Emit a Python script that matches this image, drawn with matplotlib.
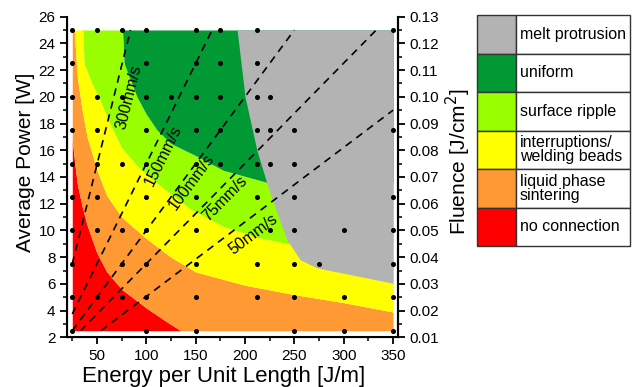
import numpy as np
import matplotlib.pyplot as plt
from matplotlib.patches import Rectangle
from matplotlib.ticker import MultipleLocator, FormatStrFormatter

plt.rcParams['font.family'] = ['Liberation Sans', 'DejaVu Sans']

# region boundaries: power [W] at energy per unit length [J/m]
red_E = [25, 30, 35, 40, 50, 60, 75, 100, 120, 135]
red_P = [16.7, 13.5, 11.8, 10.4, 8.3, 6.9, 5.6, 4.2, 3.2, 2.5]

orange_E = [27, 30, 35, 40, 50, 60, 75, 100, 125, 150, 200, 250, 300, 350]
orange_P = [25, 21.5, 19.0, 17.0, 14.5, 12.6, 11.0, 9.4, 8.0, 6.9, 5.9, 5.2, 4.6, 3.9]

yellow_E = [35.8, 37, 45, 53, 63, 75, 90, 105, 120, 145, 178, 212, 244]
yellow_P = [25, 22.5, 21.0, 19.8, 18.0, 16.2, 14.9, 13.9, 13.0, 11.6, 10.3, 9.5, 9.0]

ripple_E = [76, 77.5, 90.5, 100, 111, 125, 150, 178, 222]
ripple_P = [25, 22.5, 20.0, 18.7, 17.5, 16.5, 15.6, 14.5, 13.6]

# melt protrusion edge, energy at given power
melt_P = [6.05, 7.2, 7.8, 9.3, 11.3, 13.5, 16.0, 20.0, 25.0]
melt_E = [350, 273, 256, 242.5, 232.4, 222.3, 212, 200, 192]

# experiment points per power level
dot_rows = {
    25.0: [25, 50, 75, 100, 150, 175, 212, 350],
    22.5: [25, 100, 150, 175, 212],
    20.0: [25, 50, 75, 100, 125, 150, 175, 212, 225],
    17.5: [25, 50, 100, 150, 175, 212, 225, 250, 350],
    15.0: [25, 50, 75, 100, 150, 175, 212, 225, 250],
    12.5: [25, 50, 100, 150, 212, 250, 350],
    10.0: [25, 50, 75, 100, 150, 225, 250, 300, 350],
    7.5: [25, 75, 100, 150, 212, 250, 275, 350],
    5.0: [25, 50, 75, 100, 150, 212, 250, 300, 350],
    2.5: [25, 100, 150, 250, 300, 350],
}

# scan speed lines (start and end points) and their labels
speed_labels = ['300mm/s', '150mm/s', '100mm/s', '75mm/s', '50mm/s']
speed_E = [(25, 84), (25, 166.7), (25, 250), (33.3, 333), (54, 350)]
speed_P = [(7.5, 25), (3.75, 25), (2.5, 25), (2.5, 25), (2.5, 19)]
label_E = [82, 117, 146, 180, 208]
label_P = [20.0, 15.6, 13.6, 12.4, 9.7]

legend_labels = ['melt protrusion', 'uniform', 'surface ripple',
                 'interruptions/\nwelding beads', 'liquid phase\nsintering', 'no connection']
legend_colors = ['#b3b3b3', '#009933', '#99ff00', '#ffff00', '#ff9933', '#ff0000']

fig = plt.figure(figsize=(6.34, 3.87), dpi=100)
ax = fig.add_axes([0.1062, 0.1282, 0.5216, 0.8289])

E = np.linspace(25, 350, 800)
b1 = np.interp(E, red_E, red_P)
b2 = np.interp(E, orange_E, orange_P)
b3 = np.interp(E, yellow_E, yellow_P)
b4 = np.interp(E, ripple_E, ripple_P)
ax.fill_between(E, 2.5, b1, color=legend_colors[5], lw=0)
ax.fill_between(E, b1, b2, color=legend_colors[4], lw=0)
ax.fill_between(E, b2, b3, color=legend_colors[3], lw=0)
ax.fill_between(E, b3, b4, color=legend_colors[2], lw=0)
ax.fill_between(E, b4, 25, color=legend_colors[1], lw=0)
P = np.linspace(melt_P[0], 25, 400)
ax.fill_betweenx(P, np.interp(P, melt_P, melt_E), 350, color=legend_colors[0], lw=0)

ax.set_xlim(20, 355)
ax.set_ylim(2, 26)

for (e0, e1), (p0, p1) in zip(speed_E, speed_P):
    ax.plot([e0, e1], [p0, p1], color='black', lw=1.2, ls=(0, (4.5, 3.5)))

fig.canvas.draw()
for lab, (e0, e1), (p0, p1), le, lp in zip(speed_labels, speed_E, speed_P, label_E, label_P):
    a = ax.transData.transform([e0, p0])
    b = ax.transData.transform([e1, p1])
    ang = np.degrees(np.arctan2(b[1] - a[1], b[0] - a[0]))
    ax.text(le, lp, lab, rotation=ang, rotation_mode='anchor',
            ha='center', va='center', fontsize=11.5)

for p, es in dot_rows.items():
    ax.plot(es, [p] * len(es), 'o', color='black', ms=2.6, ls='none')

ax.xaxis.set_major_locator(MultipleLocator(50))
ax.xaxis.set_minor_locator(MultipleLocator(25))
ax.yaxis.set_major_locator(MultipleLocator(2))
ax.yaxis.set_minor_locator(MultipleLocator(1))
ax.tick_params(which='major', direction='out', length=5, width=1.3, labelsize=11)
ax.tick_params(which='minor', direction='out', length=3, width=1.1)
ax.spines['top'].set_visible(False)
for s in ['left', 'bottom', 'right']:
    ax.spines[s].set_linewidth(1.5)

ax2 = ax.twinx()
ax2.set_ylim(0.01, 0.13)
ax2.yaxis.set_major_locator(MultipleLocator(0.01))
ax2.yaxis.set_minor_locator(MultipleLocator(0.005))
ax2.yaxis.set_major_formatter(FormatStrFormatter('%.2f'))
ax2.tick_params(which='major', direction='out', length=5, width=1.3, labelsize=11)
ax2.tick_params(which='minor', direction='out', length=3, width=1.1)
ax2.spines['top'].set_visible(False)
ax2.spines['right'].set_linewidth(1.5)

fig.text(224 / 634, 0.028, 'Energy per Unit Length [J/m]', ha='center', va='center', fontsize=16)
fig.text(26 / 634, 0.58, 'Average Power [W]', rotation=90, ha='center', va='center', fontsize=15)
fig.text(458 / 634, 0.583, 'Fluence [J/cm$^2$]', rotation=90, ha='center', va='center', fontsize=15)

lax = fig.add_axes([0.7524, 0.3643, 0.2413, 0.5969])
lax.set_xlim(0, 1)
lax.set_ylim(0, 6)
lax.axis('off')
for i, (lab, col) in enumerate(zip(legend_labels, legend_colors)):
    y0 = 5 - i
    lax.add_patch(Rectangle((0, y0), 0.253, 1, fc=col, ec='#333333', lw=1, clip_on=False))
    lax.add_patch(Rectangle((0.253, y0), 0.747, 1, fc='white', ec='#333333', lw=1, clip_on=False))
    lax.text(0.28, y0 + 0.5, lab, va='center', ha='left', fontsize=11.5, linespacing=0.95)

fig.savefig('out.png', dpi=100)
